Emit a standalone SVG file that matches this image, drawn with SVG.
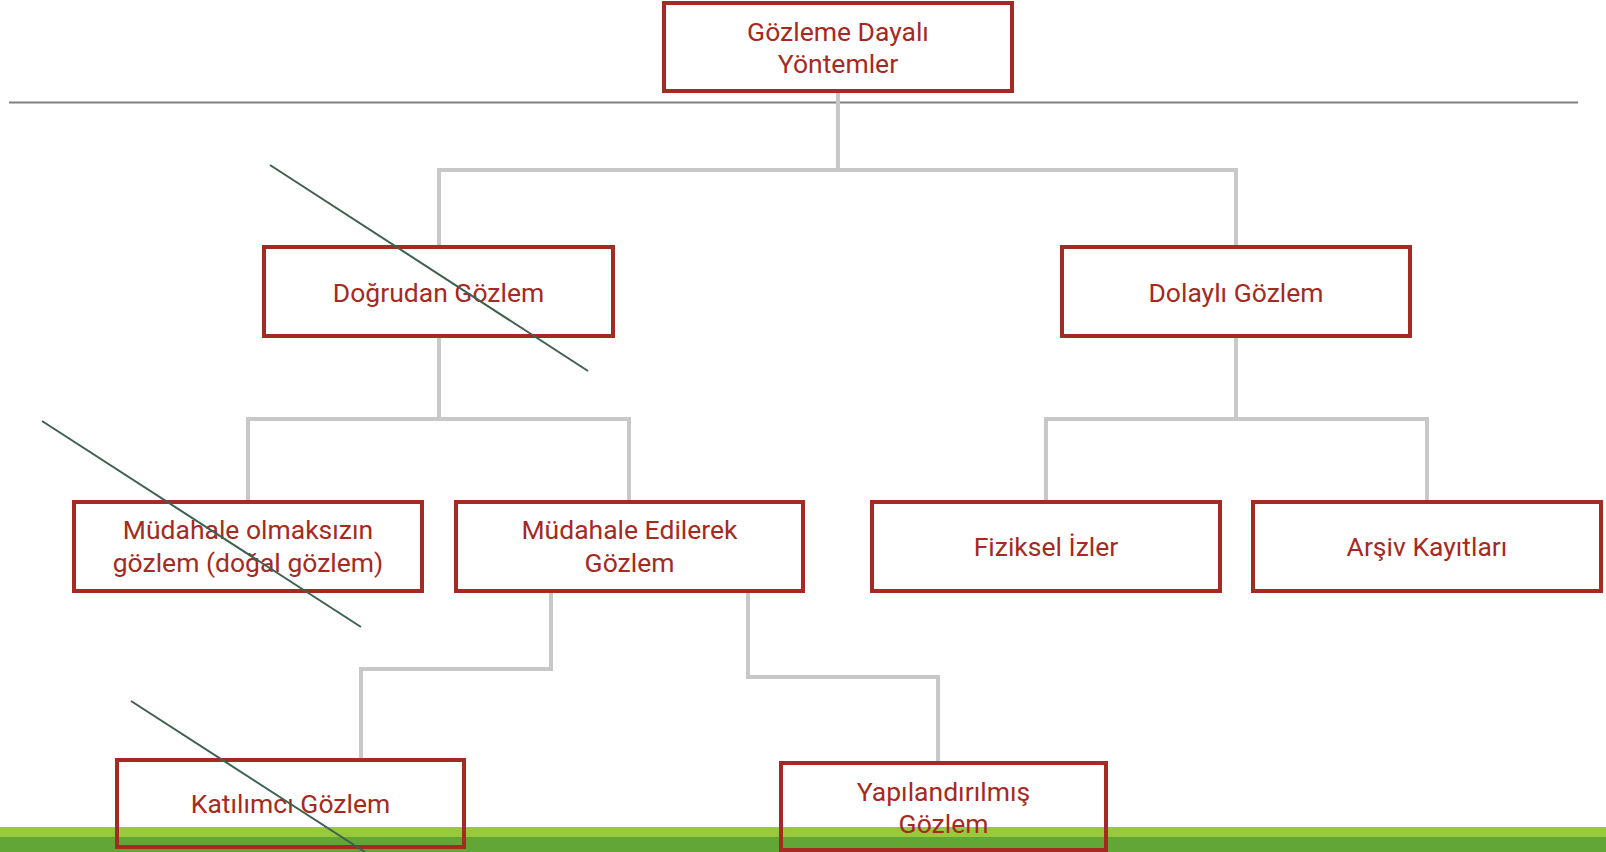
<svg xmlns="http://www.w3.org/2000/svg" width="1606" height="852" viewBox="0 0 1606 852">
<style>
.node rect{fill:none;stroke:#A52A22;stroke-width:4}
.node text{font-family:Roboto,"Liberation Sans",sans-serif;font-size:26.5px;fill:#A52A22;text-anchor:middle}
.conn path{fill:none;stroke:#C8C8C8;stroke-width:4}
.slash{stroke:#3F5F50;stroke-width:2}
</style>
<rect x="0" y="827" width="1606" height="10" fill="#97C93A"/>
<rect x="0" y="837" width="1606" height="15" fill="#62A636"/>
<line x1="9" y1="102.5" x2="1578" y2="102.5" stroke="#808080" stroke-width="2"/>
<g class="conn">
<path d="M838 91V170M439 247V170H1236V247"/>
<path d="M439 336V419M248 502V419H629V502"/>
<path d="M1236 336V419M1046 502V419H1427V502"/>
<path d="M551 591V669H361V760"/>
<path d="M748 591V677H938V763"/>
</g>
<g id="n-top" class="node"><rect x="664" y="3" width="348" height="88"/><text x="838" y="41">Gözleme Dayalı</text><text x="838" y="73">Yöntemler</text></g>
<g id="n-dogrudan" class="node"><rect x="264" y="247" width="349" height="89"/><text x="438.5" y="302">Doğrudan Gözlem</text></g>
<g id="n-dolayli" class="node"><rect x="1062" y="247" width="348" height="89"/><text x="1236" y="302">Dolaylı Gözlem</text></g>
<g id="n-mudahalesiz" class="node"><rect x="74" y="502" width="348" height="89"/><text x="248" y="539">Müdahale olmaksızın</text><text x="248" y="572">gözlem (doğal gözlem)</text></g>
<g id="n-mudahaleli" class="node"><rect x="456" y="502" width="347" height="89"/><text x="629.5" y="539">Müdahale Edilerek</text><text x="629.5" y="572">Gözlem</text></g>
<g id="n-fiziksel" class="node"><rect x="872" y="502" width="348" height="89"/><text x="1046" y="556">Fiziksel İzler</text></g>
<g id="n-arsiv" class="node"><rect x="1253" y="502" width="348" height="89"/><text x="1427" y="556">Arşiv Kayıtları</text></g>
<g id="n-katilimci" class="node"><rect x="117" y="760" width="347" height="87"/><text x="290.5" y="813">Katılımcı Gözlem</text></g>
<g id="n-yapilandirilmis" class="node"><rect x="781" y="763" width="325" height="87"/><text x="943.5" y="801">Yapılandırılmış</text><text x="943.5" y="833">Gözlem</text></g>
<line class="slash" x1="270" y1="165" x2="588" y2="371"/>
<line class="slash" x1="42" y1="421" x2="361" y2="627"/>
<line class="slash" x1="131" y1="701" x2="365" y2="852"/>
</svg>
